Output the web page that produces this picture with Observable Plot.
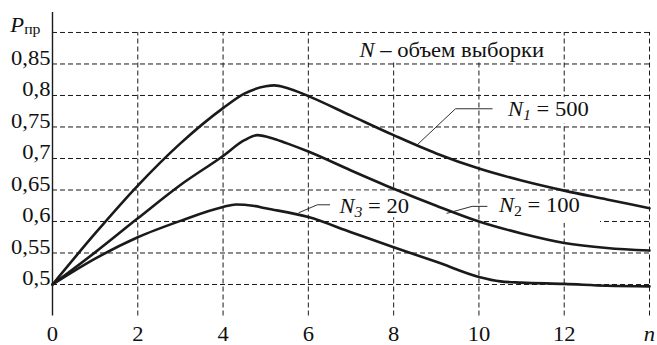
<!DOCTYPE html>
<html><head><meta charset="utf-8">
<script src="https://cdn.jsdelivr.net/npm/d3@7"></script>
<script src="https://cdn.jsdelivr.net/npm/@observablehq/plot@0.6"></script>
<style>html,body{margin:0;padding:0;background:#fff}#chart svg{display:block}
#chart svg text{font-family:"Liberation Serif","Times New Roman",Times,serif !important}</style>
</head><body><div id="chart"></div>
<script>
// ---- data ----
const xTicks = [0, 2, 4, 6, 8, 10, 12];
const xLastLabel = "n";
const xLastTick = 14;
const yTicks = [0.5, 0.55, 0.6, 0.65, 0.7, 0.75, 0.8, 0.85];
const yTopLabel = "Pпр";
const yTopTick = 0.9;
const xGrid = [2, 4, 6, 8, 10, 12, 14];
const yGrid = [0.5, 0.55, 0.6, 0.65, 0.7, 0.75, 0.8, 0.85, 0.9];

const seriesNames = ["N1 = 500", "N2 = 100", "N3 = 20"];
const n1 = [0, 1, 2, 3, 4, 4.5, 5, 5.2, 5.5, 6, 7, 8, 9, 10, 11, 12, 13, 14];
const p1 = [0.5, 0.581, 0.657, 0.724, 0.780, 0.803, 0.8145, 0.816, 0.812, 0.799, 0.768, 0.737, 0.708, 0.684, 0.665, 0.649, 0.635, 0.621];
const n2 = [0, 1, 2, 3, 4, 4.5, 4.8, 5.2, 5.5, 6, 7, 8, 9, 10, 11, 12, 13, 14];
const p2 = [0.5, 0.551, 0.605, 0.658, 0.704, 0.729, 0.737, 0.731, 0.724, 0.711, 0.681, 0.652, 0.625, 0.600, 0.581, 0.566, 0.558, 0.554];
const n3 = [0, 1, 2, 3, 4, 4.3, 4.7, 5, 6, 7, 8, 9, 10, 10.5, 11, 12, 13, 14];
const p3 = [0.5, 0.541, 0.575, 0.601, 0.623, 0.627, 0.625, 0.621, 0.607, 0.583, 0.559, 0.536, 0.512, 0.505, 0.503, 0.501, 0.498, 0.497];

const legendText = "N – объем выборки";

// ---- build tables ----
const curves = [];
[[n1, p1], [n2, p2], [n3, p3]].forEach(([ns, ps], k) => ns.forEach((n, i) => curves.push({series: seriesNames[k], n, p: ps[i]})));

// annotations (data units)
const labelAt = [
  {text: seriesNames[0], n: 10.68, p: 0.7667},
  {text: seriesNames[1], n: 10.47, p: 0.615},
  {text: seriesNames[2], n: 6.73, p: 0.6135}
];
const leaders = [
  {k: 0, pts: [[8.56, 0.7222], [9.45, 0.7789], [10.31, 0.7789]]},
  {k: 1, pts: [[9.25, 0.613], [9.84, 0.624], [10.19, 0.624]]},
  {k: 2, pts: [[5.78, 0.614], [6.21, 0.6265], [6.5, 0.6265]]}
].flatMap(d => d.pts.map(([n, p]) => ({k: d.k, n, p})));
const boxes = [
  {x1: 6.25, x2: 11.6, y1: 0.853, y2: 0.898},
  {x1: 10.5, x2: 12.65, y1: 0.755, y2: 0.797},
  {x1: 10.45, x2: 12.85, y1: 0.597, y2: 0.647},
  {x1: 6.66, x2: 8.28, y1: 0.606, y2: 0.648}
];

const FS = 20;
const dash = "5,3";
const svg = Plot.plot({
  width: 657, height: 345,
  marginLeft: 52, marginRight: 8, marginTop: 12, marginBottom: 29.5,
  x: {domain: [0, 14], axis: null},
  y: {domain: [0.45, 0.9317], axis: null},
  style: {fontSize: FS + "px", background: "#fff", color: "#000"},
  marks: [
    Plot.ruleY(yGrid, {y: d => d, x1: 0, x2: 14, stroke: "#1a1a1a", strokeWidth: 1, strokeDasharray: dash}),
    Plot.ruleX(xGrid, {x: d => d, y1: 0.45, y2: 0.9, stroke: "#1a1a1a", strokeWidth: 1, strokeDasharray: dash}),
    Plot.rect(boxes, {x1: "x1", x2: "x2", y1: "y1", y2: "y2", fill: "#fff"}),
    Plot.ruleX([0], {stroke: "#1a1a1a", strokeWidth: 1.4}),
    Plot.line(curves, {x: "n", y: "p", z: "series", curve: "monotone-x", stroke: "#1a1a1a", strokeWidth: 2.6}),
    Plot.line(leaders, {x: "n", y: "p", z: "k", stroke: "#1a1a1a", strokeWidth: 0.9}),
    // y tick labels
    Plot.text(yTicks, {y: d => d, frameAnchor: "left", dx: -2, dy: 1, textAnchor: "end", lineAnchor: "bottom", text: d => String(d).replace(".", ","), fill: "#111"}),
    Plot.text([yTopTick], {y: d => d, frameAnchor: "left", dx: -12, dy: 0, textAnchor: "end", lineAnchor: "bottom", text: () => yTopLabel, fill: "#111"}),
    // x tick labels
    Plot.text(xTicks, {x: d => d, frameAnchor: "bottom", dy: 25, lineAnchor: "bottom", text: d => String(d), fill: "#111"}),
    Plot.text([xLastTick], {x: d => d, frameAnchor: "bottom", dy: 25, lineAnchor: "bottom", text: () => xLastLabel, fontStyle: "italic", fill: "#111"}),
    // legend & labels
    Plot.text([legendText], {x: 7.2, y: 0.861, text: d => d, textAnchor: "start", lineAnchor: "bottom", fill: "#111"}),
    Plot.text(labelAt, {x: "n", y: "p", text: "text", textAnchor: "start", lineAnchor: "bottom", fill: "#111"})
  ]
});

// rich text (italics / subscripts) and horizontal stretch of the glyphs
const rich = {
  [yTopLabel]: [{t: "P", it: true}, {t: "пр", size: 14, dy: 1.5}],
  [legendText]: [{t: "N", it: true}, {t: " – объем выборки"}],
  [seriesNames[0]]: [{t: "N", it: true}, {t: "1", it: true, size: 14, dy: 4}, {t: " = 500", dy: -4}],
  [seriesNames[1]]: [{t: "N", it: true}, {t: "2", size: 14, dy: 4}, {t: " = 100", dy: -4}],
  [seriesNames[2]]: [{t: "N", it: true}, {t: "3", it: true, size: 14, dy: 4}, {t: " = 20", dy: -4}]
};
const NS = "http://www.w3.org/2000/svg";
d3.select(svg).selectAll("text").each(function () {
  this.setAttribute("font-family", "Liberation Serif");
  const spec = rich[this.textContent];
  if (spec) {
    this.textContent = "";
    for (const p of spec) {
      const ts = document.createElementNS(NS, "tspan");
      ts.textContent = p.t;
      if (p.it) ts.setAttribute("font-style", "italic");
      if (p.size) ts.setAttribute("font-size", p.size);
      if (p.dy) ts.setAttribute("dy", p.dy);
      this.appendChild(ts);
    }
  }
  const tr = this.getAttribute("transform");
  if (tr) this.setAttribute("transform", tr + " scale(1.13,1)");
});
document.getElementById("chart").appendChild(svg);
</script>
</body></html>
